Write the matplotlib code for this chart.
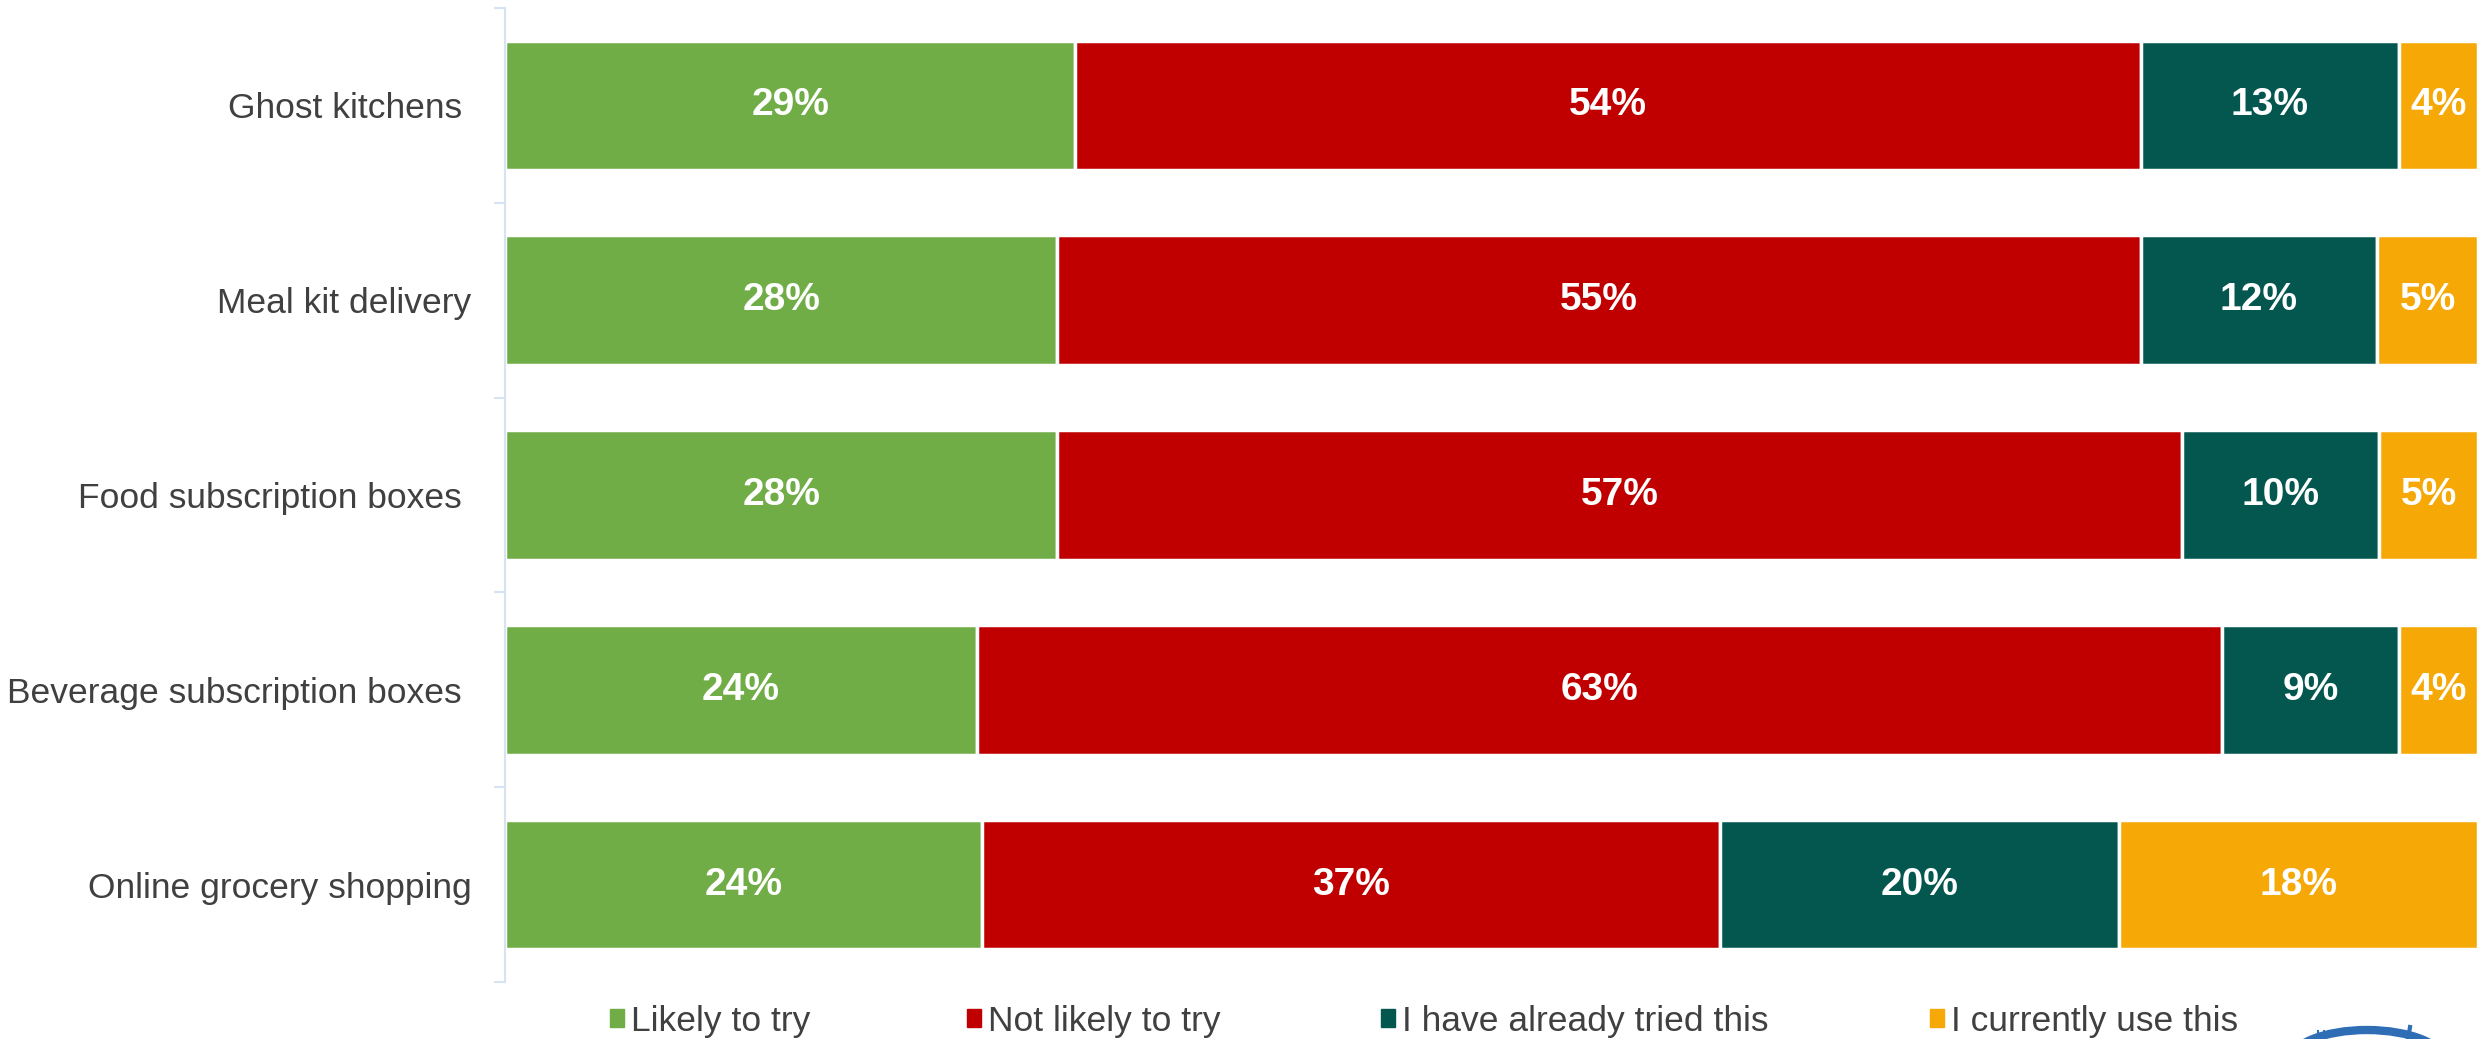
import matplotlib
matplotlib.use("Agg")
import matplotlib.pyplot as plt
from matplotlib.patches import Rectangle, Circle
from matplotlib.lines import Line2D
import numpy as np

categories = ["Ghost kitchens ", "Meal kit delivery", "Food subscription boxes ",
              "Beverage subscription boxes ", "Online grocery shopping"]
series_names = ["Likely to try", "Not likely to try", "I have already tried this", "I currently use this"]
likely = [28.9, 28.0, 28.0, 23.9, 24.2]
not_likely = [54.0, 54.9, 57.0, 63.1, 37.4]
tried = [13.1, 12.0, 10.0, 9.0, 20.2]
current = [4.0, 5.1, 5.0, 4.0, 18.2]
colors = ["#70AD47", "#C00000", "#03574F", "#F5A806"]

FONT = ["Liberation Sans", "DejaVu Sans"]
TXT = "#404040"
W, H = 2483, 1039

fig = plt.figure(figsize=(W/100, H/100), dpi=100)
ax = fig.add_axes([505/W, 1-982/H, (2478-505)/W, (982-8)/H])

series = [likely, not_likely, tried, current]
y = np.arange(len(categories))
left = np.zeros(len(categories))
for name, vals, c in zip(series_names, series, colors):
    vals = np.array(vals)
    ax.barh(y, vals, left=left, height=0.665, color=c, edgecolor="white",
            linewidth=2.5, label=name)
    for yi, l, v in zip(y, left, vals):
        ax.text(l + v/2, yi, f"{round(v)}%", ha="center", va="center", color="white",
                fontsize=28, fontweight="bold", family=FONT)
    left += vals

ax.set_xlim(0, 100)
ax.set_ylim(len(categories)-0.5, -0.5)
ax.set_yticks(y)
ax.set_yticklabels(categories, fontsize=25.5, family=FONT, color=TXT)
ax.set_yticks(np.arange(-0.5, len(categories)), minor=True)
ax.tick_params(axis="y", which="major", length=0, pad=24)
ax.tick_params(axis="y", which="minor", length=8, color="#D6E3F3", width=1.5)
ax.set_xticks([])
for s in ["top", "right", "bottom"]:
    ax.spines[s].set_visible(False)
ax.spines["left"].set_color("#D6E3F3")
ax.spines["left"].set_linewidth(1.5)

# legend entries placed individually (as in the original spacing)
leg_x = [610, 967, 1381, 1930]
for name, c, lx in zip(series_names, colors, leg_x):
    lg = fig.legend(handles=[Rectangle((0, 0), 1, 1, color=c)], labels=[name],
                    loc="center left", bbox_to_anchor=(lx/W, 1-1021/H),
                    frameon=False, borderpad=0, borderaxespad=0,
                    handlelength=0.4, handleheight=0.4, handletextpad=0.2,
                    prop={"family": FONT, "size": 25.5})
    for t in lg.get_texts():
        t.set_color(TXT)

# partial logo at bottom-right corner
logo = "#2F6EB5"
fig.patches.append(Circle((2367/W, 1-1063/H), 33/H, transform=fig.transFigure,
                          facecolor="none", edgecolor=logo, linewidth=6))
for xx in [2318, 2324]:
    fig.lines.append(Line2D([xx/W, xx/W], [0, 1-1031/H], transform=fig.transFigure,
                            color=logo, linewidth=1.5))
fig.lines.append(Line2D([2408/W, 2410/W], [0, 1-1027/H], transform=fig.transFigure,
                        color=logo, linewidth=3))

fig.savefig("out.png", dpi=100)
